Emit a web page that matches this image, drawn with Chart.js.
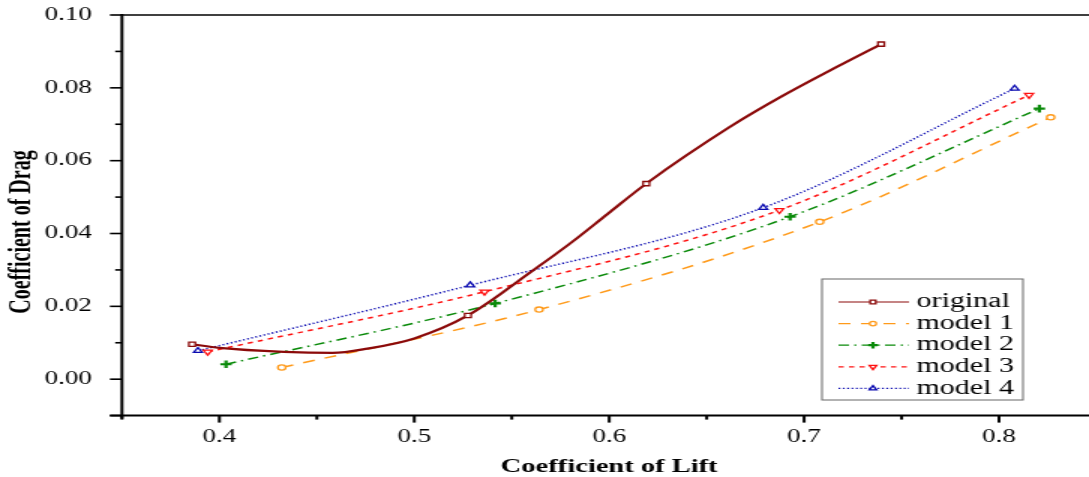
<!DOCTYPE html>
<html>
<head>
<meta charset="utf-8">
<script src="https://cdn.jsdelivr.net/npm/chart.js@4.4.1/dist/chart.umd.min.js"></script>
<style>
    html, body { margin: 0; padding: 0; background: #fff; overflow: hidden; width: 1089px; height: 477px; }
    /* the source figure is stretched sideways, so the canvas is too */
    #chart { display: block; transform: scaleX(1.5); transform-origin: 0 0; }
</style>
</head>
<body>
<canvas id="chart" width="740" height="477"></canvas>
<script>
// Values
const originalX = [0.386, 0.400, 0.433, 0.458, 0.476, 0.500, 0.5275, 0.561, 0.581, 0.599, 0.619, 0.662, 0.688, 0.717, 0.7395];
const originalY = [0.0096, 0.0086, 0.0075, 0.0072, 0.0084, 0.0112, 0.0175, 0.0299, 0.0377, 0.0453, 0.0537, 0.0693, 0.0775, 0.0858, 0.0920];
const originalMarkers = [0, 6, 10, 14]; // points that carry a symbol

const model1X = [0.432, 0.564, 0.708, 0.8265];
const model1Y = [0.0032, 0.0191, 0.0432, 0.0719];
const model2X = [0.4034, 0.5415, 0.6928, 0.8207];
const model2Y = [0.0041, 0.0208, 0.0446, 0.0743];
const model3X = [0.394, 0.536, 0.6873, 0.8154];
const model3Y = [0.0075, 0.0240, 0.0464, 0.0780];
const model4X = [0.389, 0.5287, 0.679, 0.808];
const model4Y = [0.0078, 0.0258, 0.0471, 0.0798];

const seriesNames = ['original', 'model 1', 'model 2', 'model 3', 'model 4'];

const xMajor = [0.4, 0.5, 0.6, 0.7, 0.8];
const xMinor = [0.35, 0.45, 0.55, 0.65, 0.75, 0.85];
const yMajor = [-0.01, 0.00, 0.02, 0.04, 0.06, 0.08, 0.10];
const yMinor = [0.01, 0.03, 0.05, 0.07, 0.09];

function pts(xs, ys) {
    return xs.map((x, i) => ({ x: x, y: ys[i] }));
}

const serif = '"Liberation Serif", "Times New Roman", serif';

// axis lines, frame and major/minor ticks
const axesPlugin = {
    id: 'axes',
    afterDatasetsDraw(chart) {
        const { ctx, chartArea: a, scales: { x, y } } = chart;
        const line = (x1, y1, x2, y2) => { ctx.beginPath(); ctx.moveTo(x1, y1); ctx.lineTo(x2, y2); ctx.stroke(); };
        ctx.save();
        ctx.strokeStyle = '#000';
        ctx.lineWidth = 1.3;
        line(a.left, a.top, a.right, a.top);
        ctx.lineWidth = 2;
        line(a.left, a.top - 1, a.left, a.bottom + 3);
        line(a.left - 8, a.bottom, a.right, a.bottom);
        xMajor.forEach(v => { const px = x.getPixelForValue(v); line(px, a.bottom, px, a.bottom + 7); });
        xMinor.forEach(v => { const px = x.getPixelForValue(v); line(px, a.bottom, px, a.bottom + 4); });
        ctx.lineWidth = 1.6;
        yMajor.forEach(v => { const py = y.getPixelForValue(v); line(a.left - 8, py, a.left, py); });
        yMinor.forEach(v => { const py = y.getPixelForValue(v); line(a.left - 4.5, py, a.left, py); });

        // y axis title
        ctx.fillStyle = '#000';
        ctx.font = 'bold 20px ' + serif;
        ctx.textAlign = 'center';
        ctx.textBaseline = 'middle';
        ctx.translate(14.5, 232);
        ctx.rotate(-Math.PI / 2);
        ctx.fillText('Coefficient of Drag', 0, 0);
        ctx.restore();
    }
};

// boxed legend inside the plot, line sample with symbol in the middle
const legendPlugin = {
    id: 'boxLegend',
    afterDraw(chart) {
        const ctx = chart.ctx;
        const bx = 548, by = 279, bw = 134, bh = 121;
        ctx.save();
        ctx.fillStyle = '#fff';
        ctx.fillRect(bx, by, bw, bh);
        ctx.strokeStyle = '#666';
        ctx.lineWidth = 1;
        ctx.strokeRect(bx, by, bw, bh);
        chart.data.datasets.forEach((ds, i) => {
            const ry = 302 + i * 21.6;
            ctx.strokeStyle = ds.borderColor;
            ctx.lineWidth = 1.2;
            ctx.setLineDash(ds.borderDash || []);
            ctx.beginPath();
            ctx.moveTo(559, ry);
            ctx.lineTo(606, ry);
            ctx.stroke();
            ctx.setLineDash([]);
            ctx.fillStyle = '#fff';
            ctx.lineWidth = ds.pointBorderWidth;
            Chart.helpers.drawPoint(ctx, {
                pointStyle: ds.pointStyle,
                rotation: ds.pointRotation || 0,
                radius: ds.legendRadius,
                borderWidth: ds.pointBorderWidth
            }, 582, ry);
            ctx.fillStyle = '#000';
            ctx.font = '20px ' + serif;
            ctx.textAlign = 'left';
            ctx.textBaseline = 'middle';
            ctx.fillText(ds.label, 611, ry);
        });
        ctx.restore();
    }
};

const ctx = document.getElementById('chart').getContext('2d');
new Chart(ctx, {
    type: 'line',
    data: {
        datasets: [
            {
                label: seriesNames[0],
                data: pts(originalX, originalY),
                borderColor: '#8b0a0a',
                borderWidth: 2.2,
                pointStyle: 'rect',
                pointRadius: c => originalMarkers.includes(c.dataIndex) ? 3 : 0,
                legendRadius: 2.6,
                pointBorderWidth: 1.3,
                pointBackgroundColor: '#fff',
                cubicInterpolationMode: 'monotone'
            },
            {
                label: seriesNames[1],
                data: pts(model1X, model1Y),
                borderColor: '#ff9a1a',
                borderWidth: 1.5,
                borderDash: [8, 7],
                pointStyle: 'circle',
                pointRadius: 2.6,
                legendRadius: 2.2,
                pointBorderWidth: 1.3,
                pointBackgroundColor: '#fff',
                cubicInterpolationMode: 'monotone'
            },
            {
                label: seriesNames[2],
                data: pts(model2X, model2Y),
                borderColor: '#0a8a0a',
                borderWidth: 1.5,
                borderDash: [7, 3.5, 1.5, 3.5],
                pointStyle: 'cross',
                pointRadius: 3.8,
                legendRadius: 3.2,
                pointBorderWidth: 2.2,
                pointBackgroundColor: '#fff',
                cubicInterpolationMode: 'monotone'
            },
            {
                label: seriesNames[3],
                data: pts(model3X, model3Y),
                borderColor: '#ff1010',
                borderWidth: 1.5,
                borderDash: [3.5, 3.5],
                pointStyle: 'triangle',
                pointRotation: 180,
                pointRadius: 3.3,
                legendRadius: 2.8,
                pointBorderWidth: 1.3,
                pointBackgroundColor: '#fff',
                cubicInterpolationMode: 'monotone'
            },
            {
                label: seriesNames[4],
                data: pts(model4X, model4Y),
                borderColor: '#0a0ab0',
                borderWidth: 1.5,
                borderDash: [1.2, 1.7],
                pointStyle: 'triangle',
                pointRadius: 3.3,
                legendRadius: 2.8,
                pointBorderWidth: 1.3,
                pointBackgroundColor: '#fff',
                cubicInterpolationMode: 'monotone'
            }
        ]
    },
    options: {
        responsive: false,
        devicePixelRatio: 1,
        animation: false,
        events: [],
        layout: { padding: { top: 15, right: 9, left: 0, bottom: 0 } },
        plugins: {
            legend: { display: false },
            tooltip: { enabled: false }
        },
        scales: {
            x: {
                type: 'linear',
                min: 0.35,
                max: 0.85,
                grid: { display: false },
                border: { display: false },
                afterBuildTicks: s => { s.ticks = xMajor.map(v => ({ value: v })); },
                afterFit: s => { s.height = 61.4; s.paddingLeft = 0; s.paddingRight = 0; },
                ticks: {
                    color: '#000',
                    padding: 3,
                    maxRotation: 0,
                    font: { family: serif, size: 18 },
                    callback: v => v.toFixed(1)
                },
                title: {
                    display: true,
                    text: 'Coefficient of Lift',
                    color: '#000',
                    font: { family: serif, size: 19, weight: 'bold', lineHeight: 1 },
                    padding: { top: 0, bottom: 0 }
                }
            },
            y: {
                type: 'linear',
                min: -0.01,
                max: 0.10,
                grid: { display: false },
                border: { display: false },
                afterBuildTicks: s => { s.ticks = yMajor.filter(v => v >= 0).map(v => ({ value: v })); },
                afterFit: s => { s.width = 81.3; s.paddingTop = 0; s.paddingBottom = 0; },
                ticks: {
                    color: '#000',
                    padding: 12,
                    font: { family: serif, size: 18 },
                    callback: v => v.toFixed(2)
                }
            }
        }
    },
    plugins: [axesPlugin, legendPlugin]
});
</script>
</body>
</html>
